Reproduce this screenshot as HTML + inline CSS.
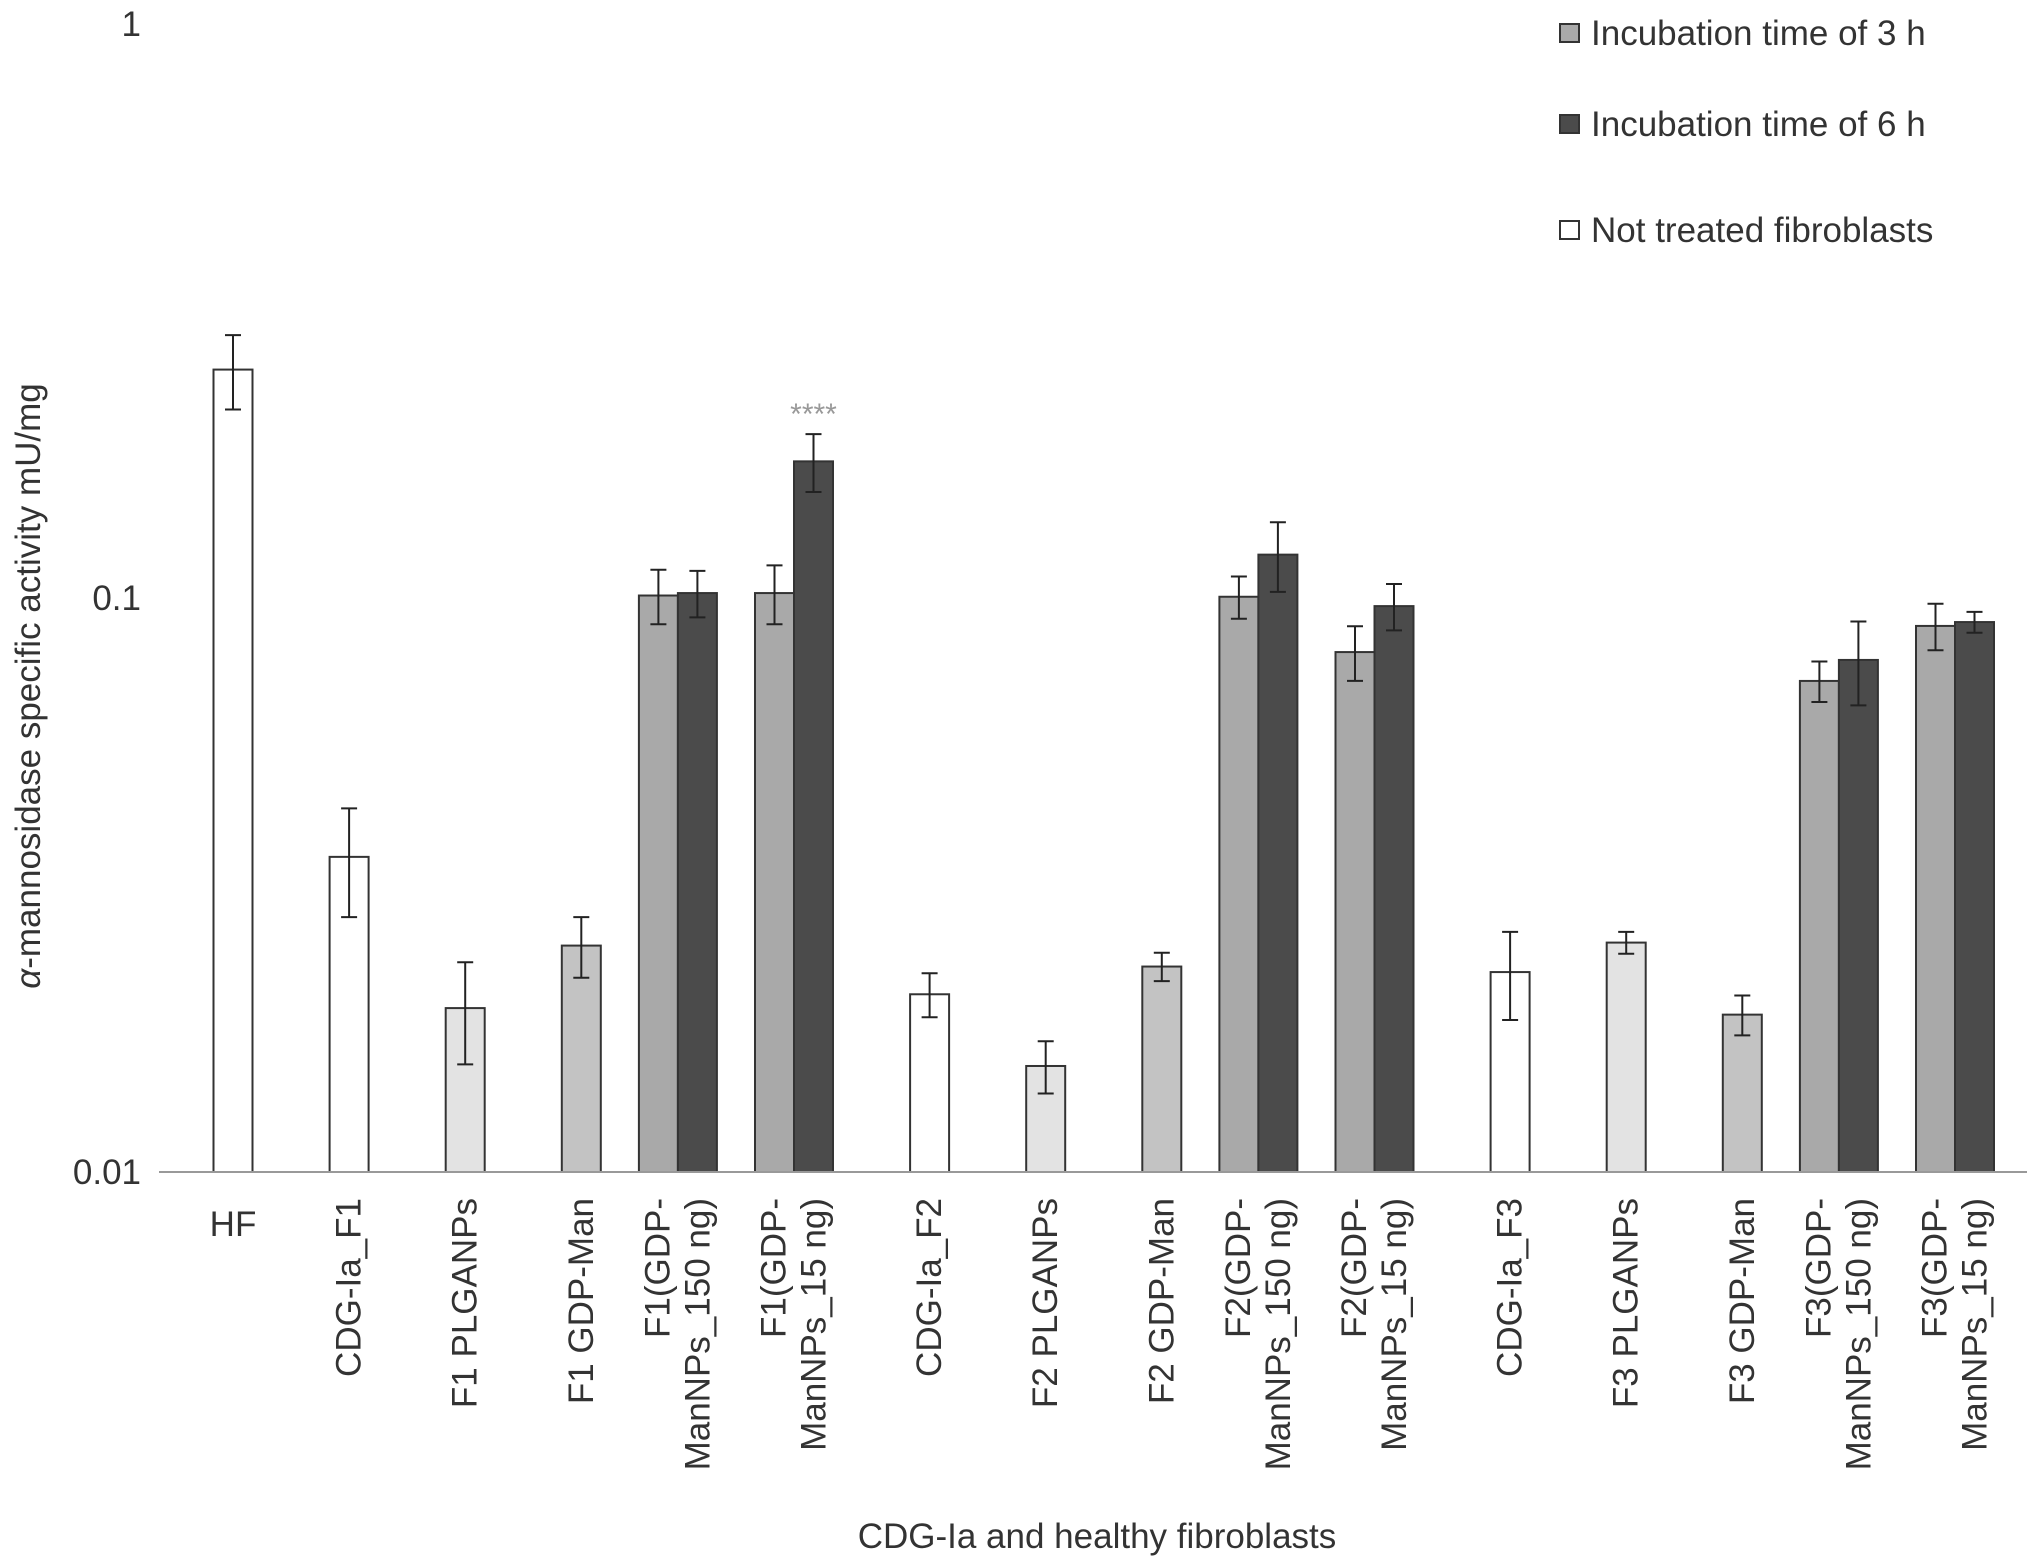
<!DOCTYPE html>
<html><head><meta charset="utf-8"><style>
html,body{margin:0;padding:0;background:#fff;}
svg{display:block;font-family:"Liberation Sans",sans-serif;}
</style></head><body>
<svg id="chart" width="2031" height="1566" viewBox="0 0 2031 1566" xmlns="http://www.w3.org/2000/svg"></svg>
<script>
const categories = [["HF"],["CDG-Ia_F1"],["F1 PLGANPs"],["F1 GDP-Man"],["F1(GDP-","ManNPs_150 ng)"],["F1(GDP-","ManNPs_15 ng)"],["CDG-Ia_F2"],["F2 PLGANPs"],["F2 GDP-Man"],["F2(GDP-","ManNPs_150 ng)"],["F2(GDP-","ManNPs_15 ng)"],["CDG-Ia_F3"],["F3 PLGANPs"],["F3 GDP-Man"],["F3(GDP-","ManNPs_150 ng)"],["F3(GDP-","ManNPs_15 ng)"]];
const singleValues = [0.25,0.0354,0.0193,0.0248,null,null,0.0204,0.0153,0.0228,null,null,0.0223,0.0251,0.0188,null,null];
const singleErrors = [0.037,0.0076,0.0039,0.003,null,null,0.0018,0.0016,0.0013,null,null,0.0039,0.0011,0.0015,null,null];
const singleKinds = ["white","white","light","mid",null,null,"white","light","mid",null,null,"white","light","mid",null,null];
const values3h = [null,null,null,null,0.101,0.102,null,null,null,0.1005,0.0805,null,null,null,0.0717,0.0894];
const errors3h = [null,null,null,null,0.011,0.012,null,null,null,0.0085,0.0088,null,null,null,0.0058,0.0083];
const values6h = [null,null,null,null,0.102,0.173,null,null,null,0.119,0.0968,null,null,null,0.078,0.0908];
const errors6h = [null,null,null,null,0.0095,0.02,null,null,null,0.0165,0.009,null,null,null,0.013,0.0038];
const yTicks = [1,0.1,0.01];
const yTickLabels = ["1","0.1","0.01"];
const legendLabels = ["Incubation time of 3 h","Incubation time of 6 h","Not treated fibroblasts"];

const NS="http://www.w3.org/2000/svg";
const svg=document.getElementById('chart');
const fills={white:"#ffffff",light:"#e3e3e3",mid:"#c3c3c3",h3:"#a9a9a9",h6:"#4b4b4b"};
const yTop=24, yBase=1172, decade=(yBase-yTop)/2;
function y(v){return yBase-decade*(Math.log10(v)+2);}
const x0=233, step=116.1, bw=39, FS=35;
function xc(i){return x0+i*step;}
function el(tag,attrs){const e=document.createElementNS(NS,tag);for(const k in attrs)e.setAttribute(k,attrs[k]);svg.appendChild(e);return e;}

function bar(cx,v,err,fill,name){
  const r=el('rect',{x:cx-bw/2,y:y(v),width:bw,height:yBase-y(v),fill:fill,stroke:"#333",'stroke-width':2});
  
  
  const hi=y(v+err), lo=y(v-err);
  const g=el('path',{d:`M${cx} ${hi}V${lo}M${cx-8} ${hi}H${cx+8}M${cx-8} ${lo}H${cx+8}`,stroke:"#222",'stroke-width':2,fill:"none"});
  
  
}
categories.forEach((c,i)=>{
  const cx=xc(i);
  if(singleValues[i]!=null) bar(cx,singleValues[i],singleErrors[i],fills[singleKinds[i]],'bar-'+i);
  if(values3h[i]!=null) bar(cx-bw,values3h[i],errors3h[i],fills.h3,'bar-3h-'+i);
  if(values6h[i]!=null) bar(cx,values6h[i],errors6h[i],fills.h6,'bar-6h-'+i);
  if(c.length===1 && c[0]==="HF"){
    const t=el('text',{x:cx,y:1236,'text-anchor':'middle','font-size':FS,fill:"#333"});t.textContent=c[0];
    
    
  } else {
    c.forEach((line,j)=>{
      const lx=c.length===1?cx:(cx-bw/2+(j===0?-20:20));
      const t=el('text',{x:lx,y:1198,'text-anchor':'end','font-size':FS,fill:"#333",'dominant-baseline':'central',transform:`rotate(-90 ${lx} 1198)`});
      t.textContent=line;
      
      
    });
  }
});
const ax=el('line',{x1:159,y1:yBase,x2:2027,y2:yBase,stroke:"#999",'stroke-width':2});


yTicks.forEach((v,i)=>{
  const t=el('text',{x:141,y:y(v)+12,'text-anchor':'end','font-size':FS,fill:"#333"});
  t.textContent=yTickLabels[i];
  
  
});
const s=el('text',{x:xc(5),y:424,'text-anchor':'middle','font-size':30,fill:"#999"});
s.textContent="****";


const yt=el('text',{x:0,y:0,'text-anchor':'middle','font-size':35,fill:"#333",transform:'translate(40 686) rotate(-90)'});
yt.innerHTML='<tspan font-style="italic">α</tspan>-mannosidase specific activity mU/mg';


const xt=el('text',{x:1097,y:1548,'text-anchor':'middle','font-size':FS,fill:"#333"});
xt.textContent="CDG-Ia and healthy fibroblasts";


const legY=[33,124,230], legF=[fills.h3,fills.h6,fills.white];
legendLabels.forEach((lab,i)=>{
  const r=el('rect',{x:1560,y:legY[i]-9,width:19,height:18,fill:legF[i],stroke:"#333",'stroke-width':2});
  
  
  const t=el('text',{x:1591,y:legY[i]+12,'font-size':FS,fill:"#333"});
  t.textContent=lab;
  
  
});
</script>
</body></html>
